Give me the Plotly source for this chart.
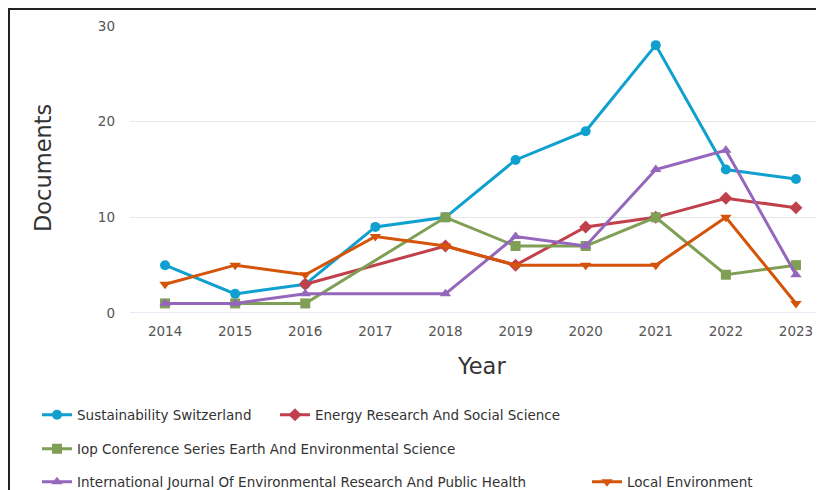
import plotly.graph_objects as go

years = [2014, 2015, 2016, 2017, 2018, 2019, 2020, 2021, 2022, 2023]
sustainability = [5, 2, 3, 9, 10, 16, 19, 28, 15, 14]
energy = [None, None, 3, None, 7, 5, 9, 10, 12, 11]
iop = [1, 1, 1, None, 10, 7, 7, 10, 4, 5]
ijerph = [1, 1, 2, None, 2, 8, 7, 15, 17, 4]
local_env = [3, 5, 4, 8, 7, 5, 5, 5, 10, 1]

names = [
    "Sustainability Switzerland",
    "Energy Research And Social Science",
    "Iop Conference Series Earth And Environmental Science",
    "International Journal Of Environmental Research And Public Health",
    "Local Environment",
]
series = [sustainability, energy, iop, ijerph, local_env]
colors = ["#0fa0d0", "#c0404c", "#7f9f55", "#9467bd", "#d4540a"]
symbols = ["circle", "diamond", "square", "triangle-up", "triangle-down"]

# page body has 8px margin; work in screen coords and convert
OFF = 8
W, H = 816, 482
L, R, T, B = 122, 0, 18, 177
pw, ph = W - L - R, H - T - B

def px(sx):
    return (sx - OFF - L) / pw

def py(sy):
    return (H - B - (sy - OFF)) / ph

def cx(sx):
    return (sx - OFF) / W

def cy(sy):
    return 1 - (sy - OFF) / H

fig = go.Figure()
legend_ids = ["legend", "legend2", "legend3", "legend4", "legend5"]
for i, (n, s, c, m) in enumerate(zip(names, series, colors, symbols)):
    fig.add_trace(go.Scatter(
        x=years, y=s, name=n, mode="lines+markers", connectgaps=True,
        line=dict(color=c, width=3),
        marker=dict(symbol=m, size=10, color=c),
        legend=legend_ids[i],
    ))

font = dict(family="DejaVu Sans", size=13.5, color="#333333")
tickfont = dict(family="DejaVu Sans", size=13.5, color="#555555")
# (legend box screen x, screen y of row centre)
leg_pos = [(37, 415), (275, 415), (37, 449), (37, 482), (587, 482)]
leg_common = dict(orientation="h", font=font, bgcolor="rgba(0,0,0,0)",
                  xref="container", yref="container",
                  xanchor="left", yanchor="middle", itemwidth=30)
legends = {}
for lid, (lx, ly) in zip(legend_ids, leg_pos):
    legends[lid] = dict(x=cx(lx), y=cy(ly), **leg_common)

fig.update_layout(
    width=W, height=H,
    margin=dict(l=L, r=R, t=T, b=B, autoexpand=False),
    paper_bgcolor="white", plot_bgcolor="white",
    font=font,
    showlegend=True,
    **legends,
    xaxis=dict(range=[2013.5, 2023.4], tickvals=years, ticktext=[str(y) for y in years],
               showgrid=False, zeroline=False, showline=False,
               ticks="", ticklabelstandoff=8, tickfont=tickfont),
    yaxis=dict(range=[0, 30], tickvals=[0, 10, 20, 30], showgrid=True, gridcolor="#e6e6e6",
               zeroline=False, showline=False, ticks="", ticklabelstandoff=14, tickfont=tickfont),
    shapes=[
        dict(type="line", xref="paper", yref="y", x0=0, x1=1, y0=0, y1=0,
             line=dict(color="#ccd6eb", width=1), layer="below"),
        dict(type="rect", xref="paper", yref="paper", x0=px(9), x1=px(OFF + W + 40),
             y0=py(OFF + H + 40), y1=py(9),
             line=dict(color="#222222", width=2), fillcolor="rgba(0,0,0,0)"),
    ],
    annotations=[
        dict(text="Documents", xref="paper", yref="paper", x=px(43), y=py(168), textangle=-90,
             showarrow=False, font=dict(family="DejaVu Sans", size=22.5, color="#333333"),
             xanchor="center", yanchor="middle"),
        dict(text="Year", xref="paper", yref="paper", x=px(481), y=py(366),
             showarrow=False, font=dict(family="DejaVu Sans", size=22.5, color="#333333"),
             xanchor="center", yanchor="middle"),
    ],
)

fig.write_html("out.html")
